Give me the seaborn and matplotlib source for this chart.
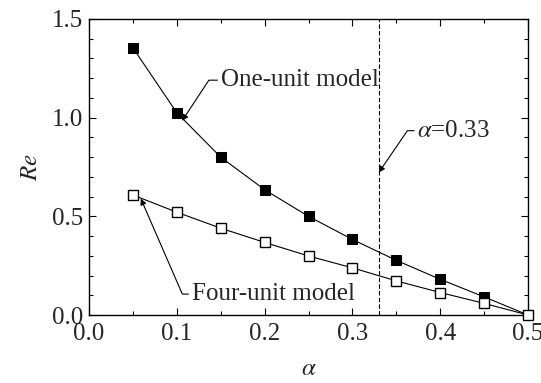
import numpy as np
import pandas as pd
import matplotlib
matplotlib.use("Agg")
import matplotlib.pyplot as plt
import seaborn as sns
from matplotlib.ticker import MultipleLocator

alpha = [0.05, 0.10, 0.15, 0.20, 0.25, 0.30, 0.35, 0.40, 0.45, 0.50]
re_one_unit = [1.354, 1.025, 0.800, 0.635, 0.500, 0.383, 0.277, 0.181, 0.092, 0.0]
re_four_unit = [0.608, 0.521, 0.440, 0.368, 0.299, 0.239, 0.173, 0.114, 0.059, 0.0]
alpha_mark = 0.33

df = pd.DataFrame({
    "alpha": alpha * 2,
    "Re": re_one_unit + re_four_unit,
    "model": ["One-unit model"] * len(alpha) + ["Four-unit model"] * len(alpha),
})

sns.set_style("ticks")
plt.rcParams["font.family"] = ["Liberation Serif", "DejaVu Serif"]
plt.rcParams["mathtext.fontset"] = "stix"

fig = plt.figure(figsize=(5.41, 3.83), dpi=100)
ax = fig.add_axes([0.1645, 0.1775, 0.8115, 0.7729])

# one-unit: filled squares, four-unit: open squares
sns.lineplot(data=df[df.model == "One-unit model"], x="alpha", y="Re", ax=ax,
             color="black", lw=0.8, marker="s", markersize=6.5,
             markerfacecolor="black", markeredgecolor="black", legend=False,
             clip_on=False, zorder=3)
sns.lineplot(data=df[df.model == "Four-unit model"], x="alpha", y="Re", ax=ax,
             color="black", lw=0.8, marker="s", markersize=6.5,
             markerfacecolor="white", markeredgecolor="black",
             markeredgewidth=1.0, legend=False, clip_on=False, zorder=4)

ax.axvline(alpha_mark, color="black", lw=0.8, ls=(0, (4, 2)), zorder=0)

ax.set_xlim(0.0, 0.5)
ax.set_ylim(0.0, 1.5)
ax.xaxis.set_major_locator(MultipleLocator(0.1))
ax.xaxis.set_minor_locator(MultipleLocator(0.05))
ax.yaxis.set_major_locator(MultipleLocator(0.5))
ax.yaxis.set_minor_locator(MultipleLocator(0.1))
ax.tick_params(which="both", direction="in", top=True, right=True,
               labelsize=18, width=0.8, color="black")
ax.tick_params(which="major", length=5)
ax.tick_params(which="minor", length=3)
ax.tick_params(axis="x", pad=6)
ax.tick_params(axis="y", pad=4)
for s in ax.spines.values():
    s.set_linewidth(1.0)
    s.set_color("black")

ax.set_xlabel(r"$\alpha$", fontsize=18, labelpad=9)
ax.set_ylabel(r"$Re$", fontsize=18, labelpad=7)

arrow = dict(arrowstyle="-|>", color="black", lw=0.8, shrinkA=0, shrinkB=0,
             mutation_scale=9, relpos=(0, 0.5))
ax.annotate("One-unit model", xy=(0.106, 0.984), xytext=(0.150, 1.19),
            fontsize=18, ha="left", va="center",
            arrowprops=dict(arrow, connectionstyle="angle,angleA=180,angleB=56.6,rad=0"))
ax.annotate(r"$\alpha$=0.33", xy=(alpha_mark, 0.722), xytext=(0.374, 0.934),
            fontsize=18, ha="left", va="center",
            arrowprops=dict(arrow, connectionstyle="angle,angleA=180,angleB=55.6,rad=0"))
ax.annotate("Four-unit model", xy=(0.059, 0.59), xytext=(0.117, 0.106),
            fontsize=18, ha="left", va="center",
            arrowprops=dict(arrow, connectionstyle="angle,angleA=180,angleB=-66.5,rad=0"))

fig.savefig("out.png", dpi=100)
